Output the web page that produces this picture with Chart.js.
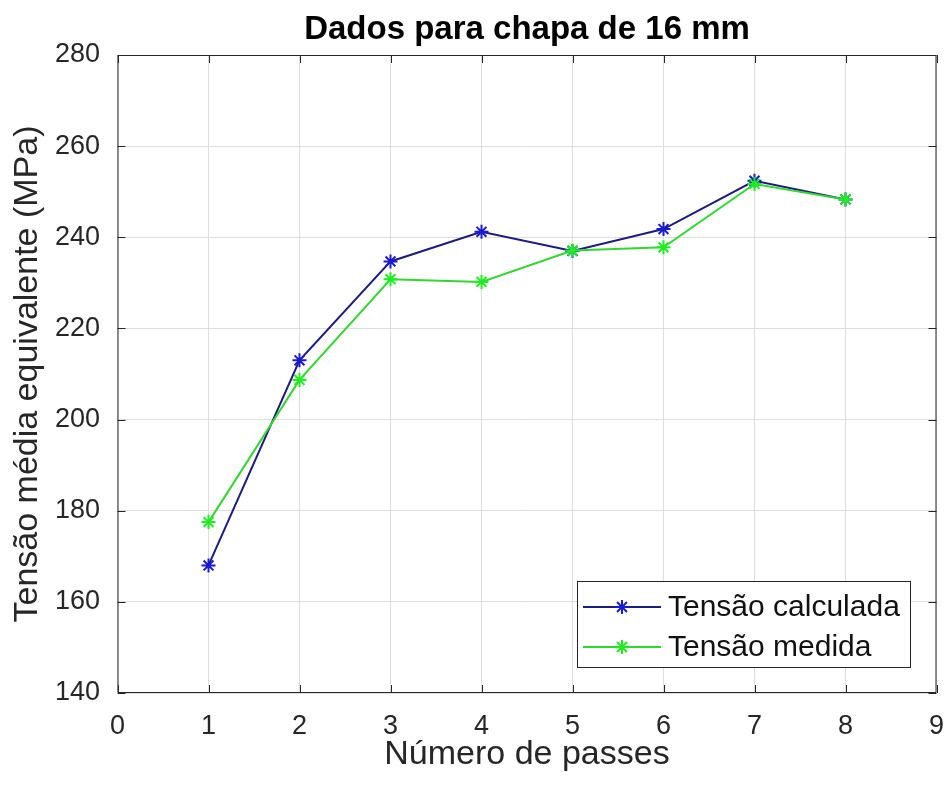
<!DOCTYPE html>
<html>
<head>
<meta charset="utf-8">
<title>Dados para chapa de 16 mm</title>
<script src="https://cdn.jsdelivr.net/npm/chart.js@4"></script>
<style>
  html, body { margin: 0; padding: 0; background: #ffffff; }
  canvas { display: block; }
</style>
</head>
<body>
<canvas id="chart" width="950" height="792"></canvas>
<script>
// Number of passes on the x axis
const passes = [1, 2, 3, 4, 5, 6, 7, 8];
// Mean equivalent stress (MPa)
const tensaoCalculada = [168.0, 213.0, 234.7, 241.2, 237.0, 241.8, 252.4, 248.3];
const tensaoMedida    = [177.5, 208.7, 230.8, 230.2, 237.1, 237.8, 251.7, 248.3];
const seriesLabels = ['Tensão calculada', 'Tensão medida'];
const xTicks = [0, 1, 2, 3, 4, 5, 6, 7, 8, 9];
const yTicks = [140, 160, 180, 200, 220, 240, 260, 280];

const FONT = '"Liberation Sans", Arial, Helvetica, sans-serif';
const AXIS_COLOR = '#262626';
const GRID_COLOR = '#dedede';

const toPoints = (ys) => passes.map((x, i) => ({ x: x, y: ys[i] }));

// Box around the axes plus inward tick marks on all four sides
const axesBox = {
  id: 'axesBox',
  afterDatasetsDraw(chart) {
    const { ctx, chartArea: a, scales } = chart;
    ctx.save();
    ctx.strokeStyle = AXIS_COLOR;
    ctx.lineWidth = 1;
    ctx.beginPath();
    ctx.rect(a.left + 0.5, a.top + 0.5, a.right - a.left - 1, a.bottom - a.top - 1);
    ctx.stroke();
    const len = 8;
    ctx.beginPath();
    scales.x.ticks.forEach(t => {
      const px = Math.round(scales.x.getPixelForValue(t.value)) + 0.5;
      ctx.moveTo(px, a.bottom); ctx.lineTo(px, a.bottom - len);
      ctx.moveTo(px, a.top); ctx.lineTo(px, a.top + len);
    });
    scales.y.ticks.forEach(t => {
      const py = Math.round(scales.y.getPixelForValue(t.value)) + 0.5;
      ctx.moveTo(a.left, py); ctx.lineTo(a.left + len, py);
      ctx.moveTo(a.right, py); ctx.lineTo(a.right - len, py);
    });
    ctx.stroke();
    ctx.restore();
  }
};

// Boxed legend in the lower right corner of the plot
const boxLegend = {
  id: 'boxLegend',
  afterDraw(chart) {
    const { ctx } = chart;
    const box = { x: 577, y: 581, w: 333, h: 86 };
    ctx.save();
    ctx.fillStyle = '#ffffff';
    ctx.fillRect(box.x, box.y, box.w, box.h);
    ctx.strokeStyle = AXIS_COLOR;
    ctx.lineWidth = 1;
    ctx.strokeRect(box.x + 0.5, box.y + 0.5, box.w, box.h);
    chart.data.datasets.forEach((ds, i) => {
      const cy = box.y + 26 + i * 40;
      ctx.strokeStyle = ds.borderColor;
      ctx.lineWidth = ds.borderWidth;
      ctx.beginPath();
      ctx.moveTo(box.x + 6, cy);
      ctx.lineTo(box.x + 84, cy);
      ctx.stroke();
      ctx.strokeStyle = ds.pointBorderColor;
      ctx.lineWidth = ds.pointBorderWidth;
      ctx.beginPath();
      const r = ds.pointRadius;
      for (let k = 0; k < 4; k++) {
        const ang = k * Math.PI / 4;
        const dx = Math.cos(ang) * r, dy = Math.sin(ang) * r;
        ctx.moveTo(box.x + 45 - dx, cy - dy);
        ctx.lineTo(box.x + 45 + dx, cy + dy);
      }
      ctx.stroke();
      ctx.fillStyle = '#111111';
      ctx.font = '30px ' + FONT;
      ctx.textAlign = 'left';
      ctx.textBaseline = 'middle';
      ctx.fillText(ds.label, box.x + 91, cy + 1);
    });
    ctx.restore();
  }
};

// White page background
const whiteBg = {
  id: 'whiteBg',
  beforeDraw(chart) {
    const { ctx, width, height } = chart;
    ctx.save();
    ctx.fillStyle = '#ffffff';
    ctx.fillRect(0, 0, width, height);
    ctx.restore();
  }
};

new Chart(document.getElementById('chart'), {
  type: 'line',
  data: {
    datasets: [
      {
        label: seriesLabels[0],
        data: toPoints(tensaoCalculada),
        borderColor: '#1c1c7e',
        borderWidth: 2,
        pointStyle: 'star',
        pointRadius: 7,
        pointBorderColor: '#1a1ad2',
        pointBorderWidth: 2,
        pointBackgroundColor: '#1a1ad2',
        tension: 0,
        fill: false,
        order: 1
      },
      {
        label: seriesLabels[1],
        data: toPoints(tensaoMedida),
        borderColor: '#33d633',
        borderWidth: 2,
        pointStyle: 'star',
        pointRadius: 7,
        pointBorderColor: '#1eee1e',
        pointBorderWidth: 2,
        pointBackgroundColor: '#1eee1e',
        tension: 0,
        fill: false,
        order: 0
      }
    ]
  },
  options: {
    responsive: false,
    animation: false,
    devicePixelRatio: 1,
    layout: { padding: { top: 0, right: 13.5, bottom: 0, left: 0 } },
    plugins: {
      legend: { display: false },
      tooltip: { enabled: false },
      title: {
        display: true,
        fullSize: false,
        text: 'Dados para chapa de 16 mm',
        color: '#000000',
        font: { family: FONT, size: 33, weight: 'bold' },
        padding: { top: 10.2, bottom: 5.2 }
      }
    },
    scales: {
      x: {
        type: 'linear',
        min: xTicks[0],
        max: xTicks[xTicks.length - 1],
        afterBuildTicks(scale) { scale.ticks = xTicks.map(v => ({ value: v })); },
        afterFit(scale) {
          scale.height = 99;
          scale.paddingLeft = 0;
          scale.paddingRight = 0;
        },
        grid: { color: GRID_COLOR, lineWidth: 1, drawTicks: false },
        border: { display: false },
        ticks: {
          color: AXIS_COLOR,
          font: { family: FONT, size: 27 },
          padding: 17,
          maxRotation: 0,
          autoSkip: false
        },
        title: {
          display: true,
          text: 'Número de passes',
          color: AXIS_COLOR,
          font: { family: FONT, size: 34 },
          padding: { top: 0, bottom: 16.6 }
        }
      },
      y: {
        type: 'linear',
        min: yTicks[0],
        max: yTicks[yTicks.length - 1],
        afterBuildTicks(scale) { scale.ticks = yTicks.map(v => ({ value: v })); },
        afterFit(scale) {
          scale.width = 117.5;
          scale.paddingTop = 0;
          scale.paddingBottom = 0;
        },
        grid: { color: GRID_COLOR, lineWidth: 1, drawTicks: false },
        border: { display: false },
        ticks: {
          color: AXIS_COLOR,
          font: { family: FONT, size: 27 },
          padding: 17.5,
          autoSkip: false
        },
        title: {
          display: true,
          text: 'Tensão média equivalente (MPa)',
          color: AXIS_COLOR,
          font: { family: FONT, size: 34 },
          padding: { top: 7.6, bottom: 0 }
        }
      }
    }
  },
  plugins: [whiteBg, axesBox, boxLegend]
});
</script>
</body>
</html>
